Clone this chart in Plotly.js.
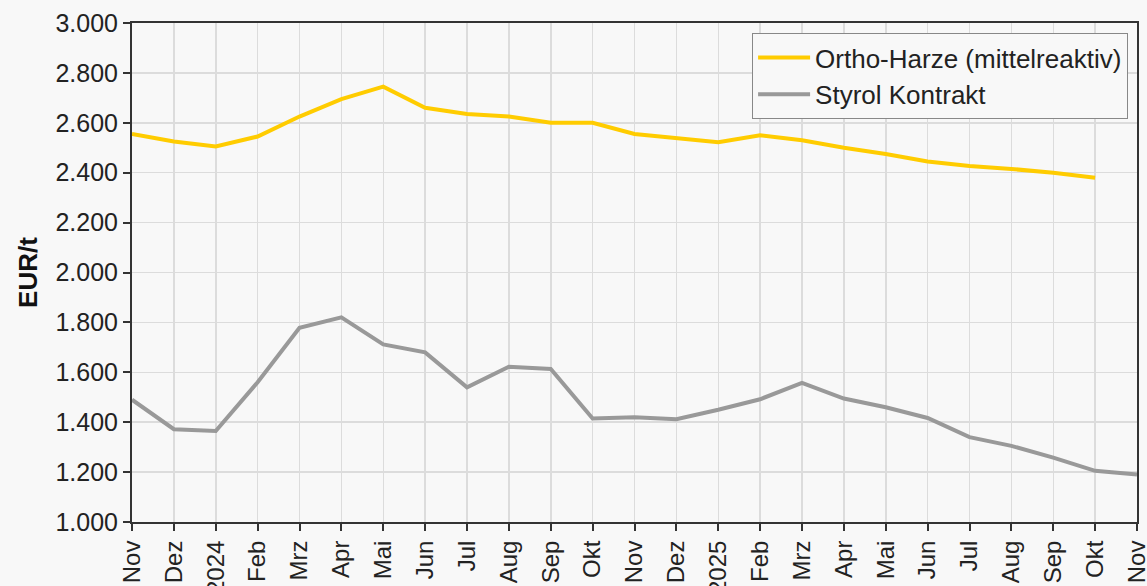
<!DOCTYPE html>
<html>
<head>
<meta charset="utf-8">
<script src="https://cdn.plot.ly/plotly-3.0.1.min.js"></script>
<style>html,body{margin:0;padding:0;background:#f8f8f8;}#chart{width:1147px;height:586px;}</style>
</head>
<body>
<div id="chart"></div>
<script>
const tickLabels = ["Nov","Dez","2024","Feb","Mrz","Apr","Mai","Jun","Jul","Aug","Sep","Okt","Nov","Dez","2025","Feb","Mrz","Apr","Mai","Jun","Jul","Aug","Sep","Okt","Nov"];
const orthoHarze = [2555,2525,2505,2545,2625,2695,2745,2660,2635,2625,2600,2600,2555,2540,2522,2550,2530,2500,2475,2445,2427,2415,2400,2380,null];
const styrolKontrakt = [1490,1372,1365,1560,1778,1820,1712,1680,1540,1622,1613,1415,1420,1412,1450,1492,1558,1495,1460,1417,1340,1305,1258,1205,1190];
const seriesNames = ["Ortho-Harze (mittelreaktiv)","Styrol Kontrakt"];

const xIdx = tickLabels.map((_, i) => i);
const font = "Liberation Sans, Arial, sans-serif";

const traces = [
  {x: xIdx, y: orthoHarze, name: seriesNames[0], type: "scatter", mode: "lines",
   line: {color: "#FFCC00", width: 4}, connectgaps: false},
  {x: xIdx, y: styrolKontrakt, name: seriesNames[1], type: "scatter", mode: "lines",
   line: {color: "#999999", width: 4}}
];

const layout = {
  width: 1147, height: 586,
  paper_bgcolor: "#f8f8f8", plot_bgcolor: "#f8f8f8",
  margin: {l: 132, r: 10, t: 23, b: 64},
  font: {family: font, size: 24, color: "#222"},
  showlegend: true,
  legend: {x: 0.617, y: 0.98, xanchor: "left", yanchor: "top",
    bgcolor: "#f8f8f8", bordercolor: "#888", borderwidth: 1, itemwidth: 52,
    font: {family: font, size: 26, color: "#222"}, tracegroupgap: 0},
  xaxis: {
    range: [0, 24], tickmode: "array", tickvals: xIdx, ticktext: tickLabels,
    tickangle: -90, showgrid: true, gridcolor: "#dcdcdc", gridwidth: 1.5,
    showline: true, linecolor: "#333", linewidth: 2, mirror: true,
    ticks: "outside", ticklen: 7, tickcolor: "#333", tickwidth: 2,
    ticklabeloverflow: "allow",
    tickfont: {family: font, size: 24, color: "#222"}, zeroline: false, fixedrange: true
  },
  yaxis: {
    range: [1000, 3000], tickmode: "array",
    tickvals: [1000,1200,1400,1600,1800,2000,2200,2400,2600,2800,3000],
    ticktext: ["1.000","1.200","1.400","1.600","1.800","2.000","2.200","2.400","2.600","2.800","3.000"],
    showgrid: true, gridcolor: "#dcdcdc", gridwidth: 1.5,
    showline: true, linecolor: "#333", linewidth: 2, mirror: true,
    ticks: "outside", ticklen: 7, tickcolor: "#333", tickwidth: 2,
    tickfont: {family: font, size: 25, color: "#222"}, zeroline: false,
    title: {text: "<b>EUR/t</b>", font: {family: font, size: 26, color: "#111"}, standoff: 10},
    fixedrange: true
  }
};

Plotly.newPlot("chart", traces, layout, {displayModeBar: false, staticPlot: true});
</script>
</body>
</html>
